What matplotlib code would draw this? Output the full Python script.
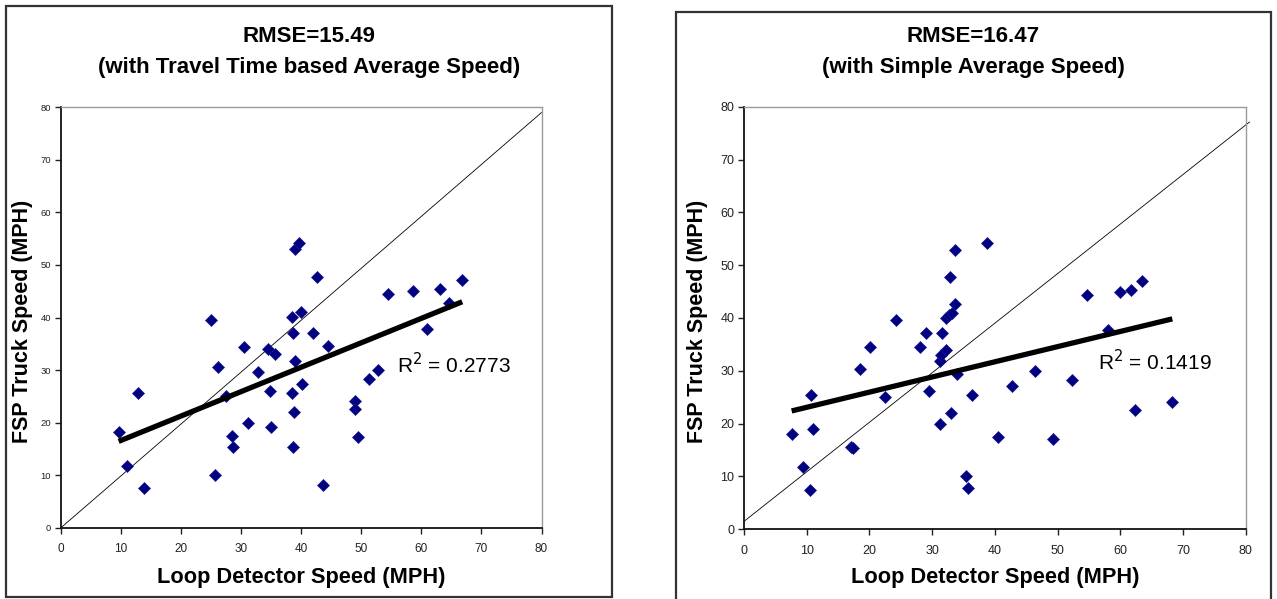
import numpy as np
import matplotlib
matplotlib.use("Agg")
import matplotlib.pyplot as plt
from matplotlib.patches import Rectangle

plt.rcParams["font.family"] = ["Liberation Sans", "DejaVu Sans"]

# =========================
# data
# =========================
# left: travel time based average speed
loop_tt = [9.6, 11.0, 13.9, 12.8, 25.0, 26.1, 25.7, 27.4, 28.5, 28.6, 30.4,
           31.1, 32.8, 34.5, 35.6, 34.8, 35.0, 38.5, 38.7, 39.0, 38.5, 38.8,
           38.7, 39.0, 39.6, 39.9, 40.2, 42.6, 42.0, 44.4, 43.6, 48.9, 48.9,
           49.4, 51.3, 52.7, 54.4, 58.6, 63.1, 66.8, 64.6, 61.0]
fsp_tt = [18.3, 11.8, 7.6, 25.6, 39.6, 30.5, 10.0, 25.1, 17.5, 15.4, 34.4,
          20.0, 29.6, 34.1, 33.0, 26.0, 19.1, 40.1, 37.1, 31.8, 25.6, 22.0,
          15.4, 53.1, 54.2, 41.1, 27.3, 47.8, 37.1, 34.6, 8.1, 24.2, 22.6,
          17.3, 28.3, 30.1, 44.4, 45.0, 45.4, 47.1, 42.8, 37.8]

# right: simple average speed
loop_simple = [7.6, 9.4, 10.5, 10.7, 11.0, 17.0, 17.4, 18.5, 20.1, 22.5, 24.2,
               28.0, 29.0, 29.5, 31.2, 31.6, 31.2, 31.4, 32.2, 33.0, 33.9,
               32.2, 32.7, 33.1, 33.7, 32.9, 33.6, 38.7, 35.4, 35.7, 36.3,
               40.5, 42.8, 46.4, 49.3, 52.3, 54.7, 58.1, 59.9, 61.7, 63.4,
               62.4, 68.3]
fsp_simple = [18.1, 11.8, 7.5, 25.4, 19.0, 15.5, 15.3, 30.4, 34.5, 25.0, 39.7,
              34.6, 37.1, 26.1, 19.9, 37.1, 31.8, 33.0, 34.0, 22.0, 29.4,
              40.0, 40.6, 41.0, 42.7, 47.7, 52.9, 54.2, 10.1, 7.8, 25.5,
              17.4, 27.2, 30.0, 17.1, 28.3, 44.3, 37.8, 45.0, 45.3, 47.0,
              22.5, 24.1]

# thin reference lines as drawn in each chart
ref_tt_x, ref_tt_y = [0, 80], [0, 79]
ref_simple_x, ref_simple_y = [0, 80.6], [1.5, 77.1]

titles_top = ["RMSE=15.49", "RMSE=16.47"]
titles_sub = ["(with Travel Time based Average Speed)",
              "(with Simple Average Speed)"]
r2_labels = ["R$^2$ = 0.2773", "R$^2$ = 0.1419"]
ticks = [0, 10, 20, 30, 40, 50, 60, 70, 80]

W, H = 1277, 599
fig = plt.figure(figsize=(W / 100, H / 100), dpi=100)

# chart area frames
fig.patches.append(Rectangle((5.7 / W, 1 - 597.3 / H), 606 / W, 591.6 / H,
                             transform=fig.transFigure, fill=False,
                             edgecolor="#333333", linewidth=1.6))
fig.patches.append(Rectangle((675.7 / W, -0.02), 595.3 / W, 1.01 - 5.7 / H,
                             transform=fig.transFigure, fill=False,
                             edgecolor="#333333", linewidth=1.6))

panels = [
    dict(rect=[61 / W, 1 - 527.7 / H, 480.5 / W, 420.4 / H],
         x=loop_tt, y=fsp_tt, rx=ref_tt_x, ry=ref_tt_y,
         yfs=6.8, xfs=8.5, cx=308.7, r2=(397, 365), ylab_x=23),
    dict(rect=[744 / W, 1 - 529.3 / H, 501.7 / W, 422.6 / H],
         x=loop_simple, y=fsp_simple, rx=ref_simple_x, ry=ref_simple_y,
         yfs=9, xfs=9, cx=973.4, r2=(1098, 362), ylab_x=697),
]

for i, p in enumerate(panels):
    ax = fig.add_axes(p["rect"])
    ax.set_xlim(0, 80)
    ax.set_ylim(0, 80)
    ax.set_xticks(ticks)
    ax.set_yticks(ticks)
    ax.tick_params(axis="x", direction="out", length=4, width=1,
                   labelsize=p["xfs"], pad=7, colors="#222222")
    ax.tick_params(axis="y", direction="out", length=4, width=1,
                   labelsize=p["yfs"], pad=3, colors="#222222")
    for s in ["left", "bottom"]:
        ax.spines[s].set_color("#111111")
        ax.spines[s].set_linewidth(1.3)
    for s in ["top", "right"]:
        ax.spines[s].set_color("#9a9a9a")
        ax.spines[s].set_linewidth(1.0)

    ax.plot(p["rx"], p["ry"], color="black", linewidth=0.6, clip_on=False,
            zorder=2)
    ax.plot(p["x"], p["y"], linestyle="none", marker="D", markersize=5.8,
            color="#000080", markeredgecolor="#1a1a90", markeredgewidth=0.5,
            zorder=3)

    # linear trendline over the data range
    xs = np.array(p["x"])
    k, b = np.polyfit(xs, np.array(p["y"]), 1)
    tx = np.array([xs.min(), xs.max()])
    ax.plot(tx, k * tx + b, color="black", linewidth=3.8,
            solid_capstyle="butt", zorder=4)

    fig.text(p["r2"][0] / W, 1 - p["r2"][1] / H, r2_labels[i], fontsize=15,
             ha="left", va="center")

    fig.text(p["cx"] / W, 1 - 36 / H, titles_top[i], fontsize=16,
             fontweight="bold", ha="center", va="center")
    fig.text(p["cx"] / W, 1 - 67 / H, titles_sub[i], fontsize=16,
             fontweight="bold", ha="center", va="center")

    x0, _, w, _ = p["rect"]
    fig.text(x0 + w / 2, 1 - 578 / H, "Loop Detector Speed (MPH)",
             fontsize=15.7, fontweight="bold", ha="center", va="center")
    fig.text(p["ylab_x"] / W, 1 - 321 / H, "FSP Truck Speed (MPH)",
             fontsize=15.5, fontweight="bold", ha="center", va="center",
             rotation=90)

fig.savefig("out.png", dpi=100)
